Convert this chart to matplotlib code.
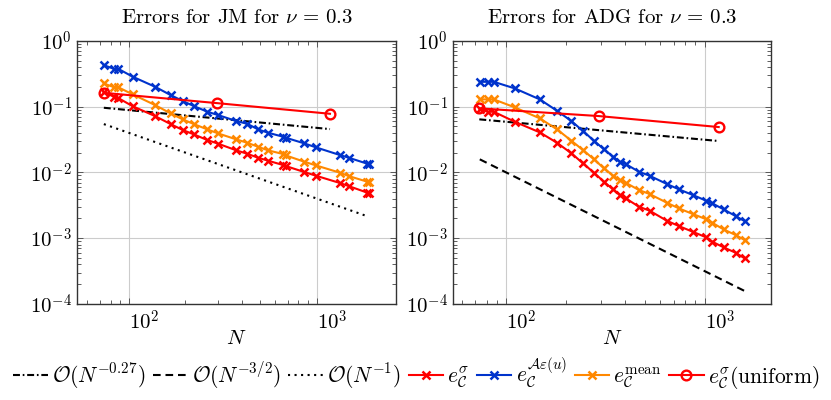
import numpy as np
import matplotlib
matplotlib.use('Agg')
import matplotlib.pyplot as plt
from matplotlib.ticker import FixedLocator, FixedFormatter, LogLocator, NullFormatter

plt.rcParams['font.family'] = 'serif'
plt.rcParams['font.serif'] = ['cmr10', 'DejaVu Serif']
plt.rcParams['mathtext.fontset'] = 'cm'
plt.rcParams['axes.unicode_minus'] = False
plt.rcParams['lines.scale_dashes'] = False

# --- JM (left) ---
N_jm = [73.6, 83.8, 87.4, 105, 138, 167, 194, 222, 262, 299, 374, 427,
        488, 552, 664, 686, 860, 992, 1332, 1482, 1864, 1910]
sig_jm = [0.164, 0.141, 0.136, 0.101, 0.0717, 0.0542, 0.0440, 0.0378, 0.0310,
          0.0273, 0.0216, 0.0192, 0.0167, 0.01504, 0.01292, 0.01248, 0.01012,
          0.0089, 0.00689, 0.0062, 0.00491, 0.0048]
aeps_jm = [0.427, 0.372, 0.378, 0.284, 0.200, 0.1495, 0.1212, 0.1018, 0.0835,
           0.0743, 0.0602, 0.0548, 0.0450, 0.0400, 0.0348, 0.0336, 0.0276,
           0.0240, 0.01834, 0.0167, 0.01354, 0.01323]
mean_jm = [0.225, 0.1955, 0.198, 0.153, 0.1054, 0.0787, 0.0638, 0.0542, 0.0450,
           0.0391, 0.0317, 0.0282, 0.0245, 0.0216, 0.0190, 0.0181, 0.01452,
           0.01277, 0.00988, 0.00880, 0.00721, 0.00705]

# --- ADG (right) ---
N_adg = [74.0, 81.5, 87.0, 111.0, 148.2, 181.0, 213.9, 244.6, 277.8, 311.9,
         346.1, 374.0, 400.9, 467.6, 529.2, 646.4, 742.9, 873.4, 1020, 1093,
         1246, 1432, 1589]
sig_adg = [0.0908, 0.0835, 0.0835, 0.0588, 0.0406, 0.0282, 0.0195, 0.01373,
           0.00988, 0.00721, 0.00553, 0.00453, 0.00404, 0.00301, 0.00262,
           0.00184, 0.00153, 0.00125, 0.00103, 0.000885, 0.000727, 0.000602,
           0.000495]
aeps_adg = [0.238, 0.238, 0.238, 0.189, 0.1288, 0.0864, 0.0603, 0.0425, 0.0303,
            0.0224, 0.0174, 0.01452, 0.01340, 0.01023, 0.0089, 0.00666, 0.00553,
            0.00453, 0.00371, 0.00339, 0.00275, 0.00217, 0.00182]
mean_adg = [0.1288, 0.1288, 0.1288, 0.0973, 0.0663, 0.0451, 0.0303, 0.02186,
            0.0158, 0.01153, 0.00896, 0.00766, 0.00697, 0.0054, 0.00469,
            0.00346, 0.00284, 0.00233, 0.00194, 0.00172, 0.00136, 0.00112,
            0.000939]

# uniform refinement
N_uni = [73.5, 294, 1178]
uni_jm = [0.162, 0.113, 0.0778]
uni_adg = [0.094, 0.0718, 0.0489]

# reference slopes (end points)
ref027_N = [73.6, 1178]
ref027_jm = [0.096, 0.0455]
ref027_adg = [0.064, 0.030]
ref1_N = [73.6, 1849]
ref1_jm = [0.0542, 0.00217]
ref32_N = [74.0, 1589]
ref32_adg = [0.0158, 0.000158]

RED = '#ff0000'
BLUE = '#0033cc'
ORANGE = '#ff8800'
FS = 15
LFS = 15.5

fig = plt.figure(figsize=(8.31, 4.0), dpi=100)
axL = fig.add_axes([0.093, 0.24, 0.3835, 0.658])
axR = fig.add_axes([0.5455, 0.24, 0.3823, 0.658])

dashdot = (0, (5, 2, 1.2, 2))
dashed = (0, (5.5, 3.5))
dotted = (0, (1.5, 3.2))
lw = 1.5
mk = dict(marker='x', ms=5.5, mew=1.8)


def draw_errors(ax, N, sig, aeps, mean, uni):
    ax.plot(N, sig, color=RED, lw=lw, label=r'$e_{\mathcal{C}}^{\sigma}$', **mk)
    ax.plot(N, aeps, color=BLUE, lw=lw,
            label=r'$e_{\mathcal{C}}^{\mathcal{A}\varepsilon(u)}$', **mk)
    ax.plot(N, mean, color=ORANGE, lw=lw,
            label=r'$e_{\mathcal{C}}^{\mathrm{mean}}$', **mk)
    ax.plot(N_uni, uni, color=RED, lw=lw, marker='o', ms=7, mew=1.7, mfc='none',
            label=r'$e_{\mathcal{C}}^{\sigma}(\mathrm{uniform})$')


h027 = axL.plot(ref027_N, ref027_jm, color='k', lw=lw, ls=dashdot,
                label=r'$\mathcal{O}(N^{-0.27})$')[0]
h1 = axL.plot(ref1_N, ref1_jm, color='k', lw=lw, ls=dotted,
              label=r'$\mathcal{O}(N^{-1})$')[0]
draw_errors(axL, N_jm, sig_jm, aeps_jm, mean_jm, uni_jm)

axR.plot(ref027_N, ref027_adg, color='k', lw=lw, ls=dashdot)
h32 = axR.plot(ref32_N, ref32_adg, color='k', lw=lw, ls=dashed,
               label=r'$\mathcal{O}(N^{-3/2})$')[0]
draw_errors(axR, N_adg, sig_adg, aeps_adg, mean_adg, uni_adg)

for ax, N, title in [(axL, N_jm, r'Errors for JM for $\nu\,=\,0.3$'),
                     (axR, N_adg, r'Errors for ADG for $\nu\,=\,0.3$')]:
    ax.set_xscale('log')
    ax.set_yscale('log')
    r = (max(N) / min(N)) ** 0.1
    ax.set_xlim(min(N) / r, max(N) * r)
    ax.set_ylim(1e-4, 1)
    ax.xaxis.set_major_locator(FixedLocator([100, 1000]))
    ax.xaxis.set_major_formatter(FixedFormatter([r'$10^{2}$', r'$10^{3}$']))
    ax.xaxis.set_minor_locator(FixedLocator([60, 70, 80, 90] + list(range(200, 1000, 100))))
    ax.xaxis.set_minor_formatter(NullFormatter())
    ax.yaxis.set_major_locator(FixedLocator([1e-4, 1e-3, 1e-2, 1e-1, 1]))
    ax.yaxis.set_major_formatter(FixedFormatter([r'$10^{-4}$', r'$10^{-3}$', r'$10^{-2}$',
                                                 r'$10^{-1}$', r'$10^{0}$']))
    ax.yaxis.set_minor_locator(LogLocator(base=10, subs=np.arange(2, 10), numticks=20))
    ax.yaxis.set_minor_formatter(NullFormatter())
    ax.tick_params(which='both', direction='in', top=True, right=True,
                   labelsize=FS, color='#444444')
    ax.tick_params(which='major', length=4, width=0.6, pad=4)
    ax.tick_params(which='minor', length=3, width=0.6)
    for lab in ax.get_xticklabels():
        lab.set_horizontalalignment('left')
    ax.grid(True, which='major', color='#cccccc', lw=0.8)
    ax.set_axisbelow(True)
    for s in ax.spines.values():
        s.set_color('#333333')
        s.set_linewidth(1.0)
    ax.set_title(title, fontsize=FS, pad=13)
    ax.set_xlabel(r'$N$', fontsize=FS, labelpad=-3)

hs = axL.get_lines()
sig_h, aeps_h, mean_h, uni_h = hs[2], hs[3], hs[4], hs[5]
handles = [h027, h32, h1, sig_h, aeps_h, mean_h, uni_h]
fig.legend(handles, [h.get_label() for h in handles],
           loc='center', bbox_to_anchor=(0.501, 0.066), ncol=7, frameon=False,
           fontsize=LFS, handlelength=1.6, handletextpad=0.2, columnspacing=0.35,
           numpoints=1)

fig.savefig('out.png', dpi=100)
